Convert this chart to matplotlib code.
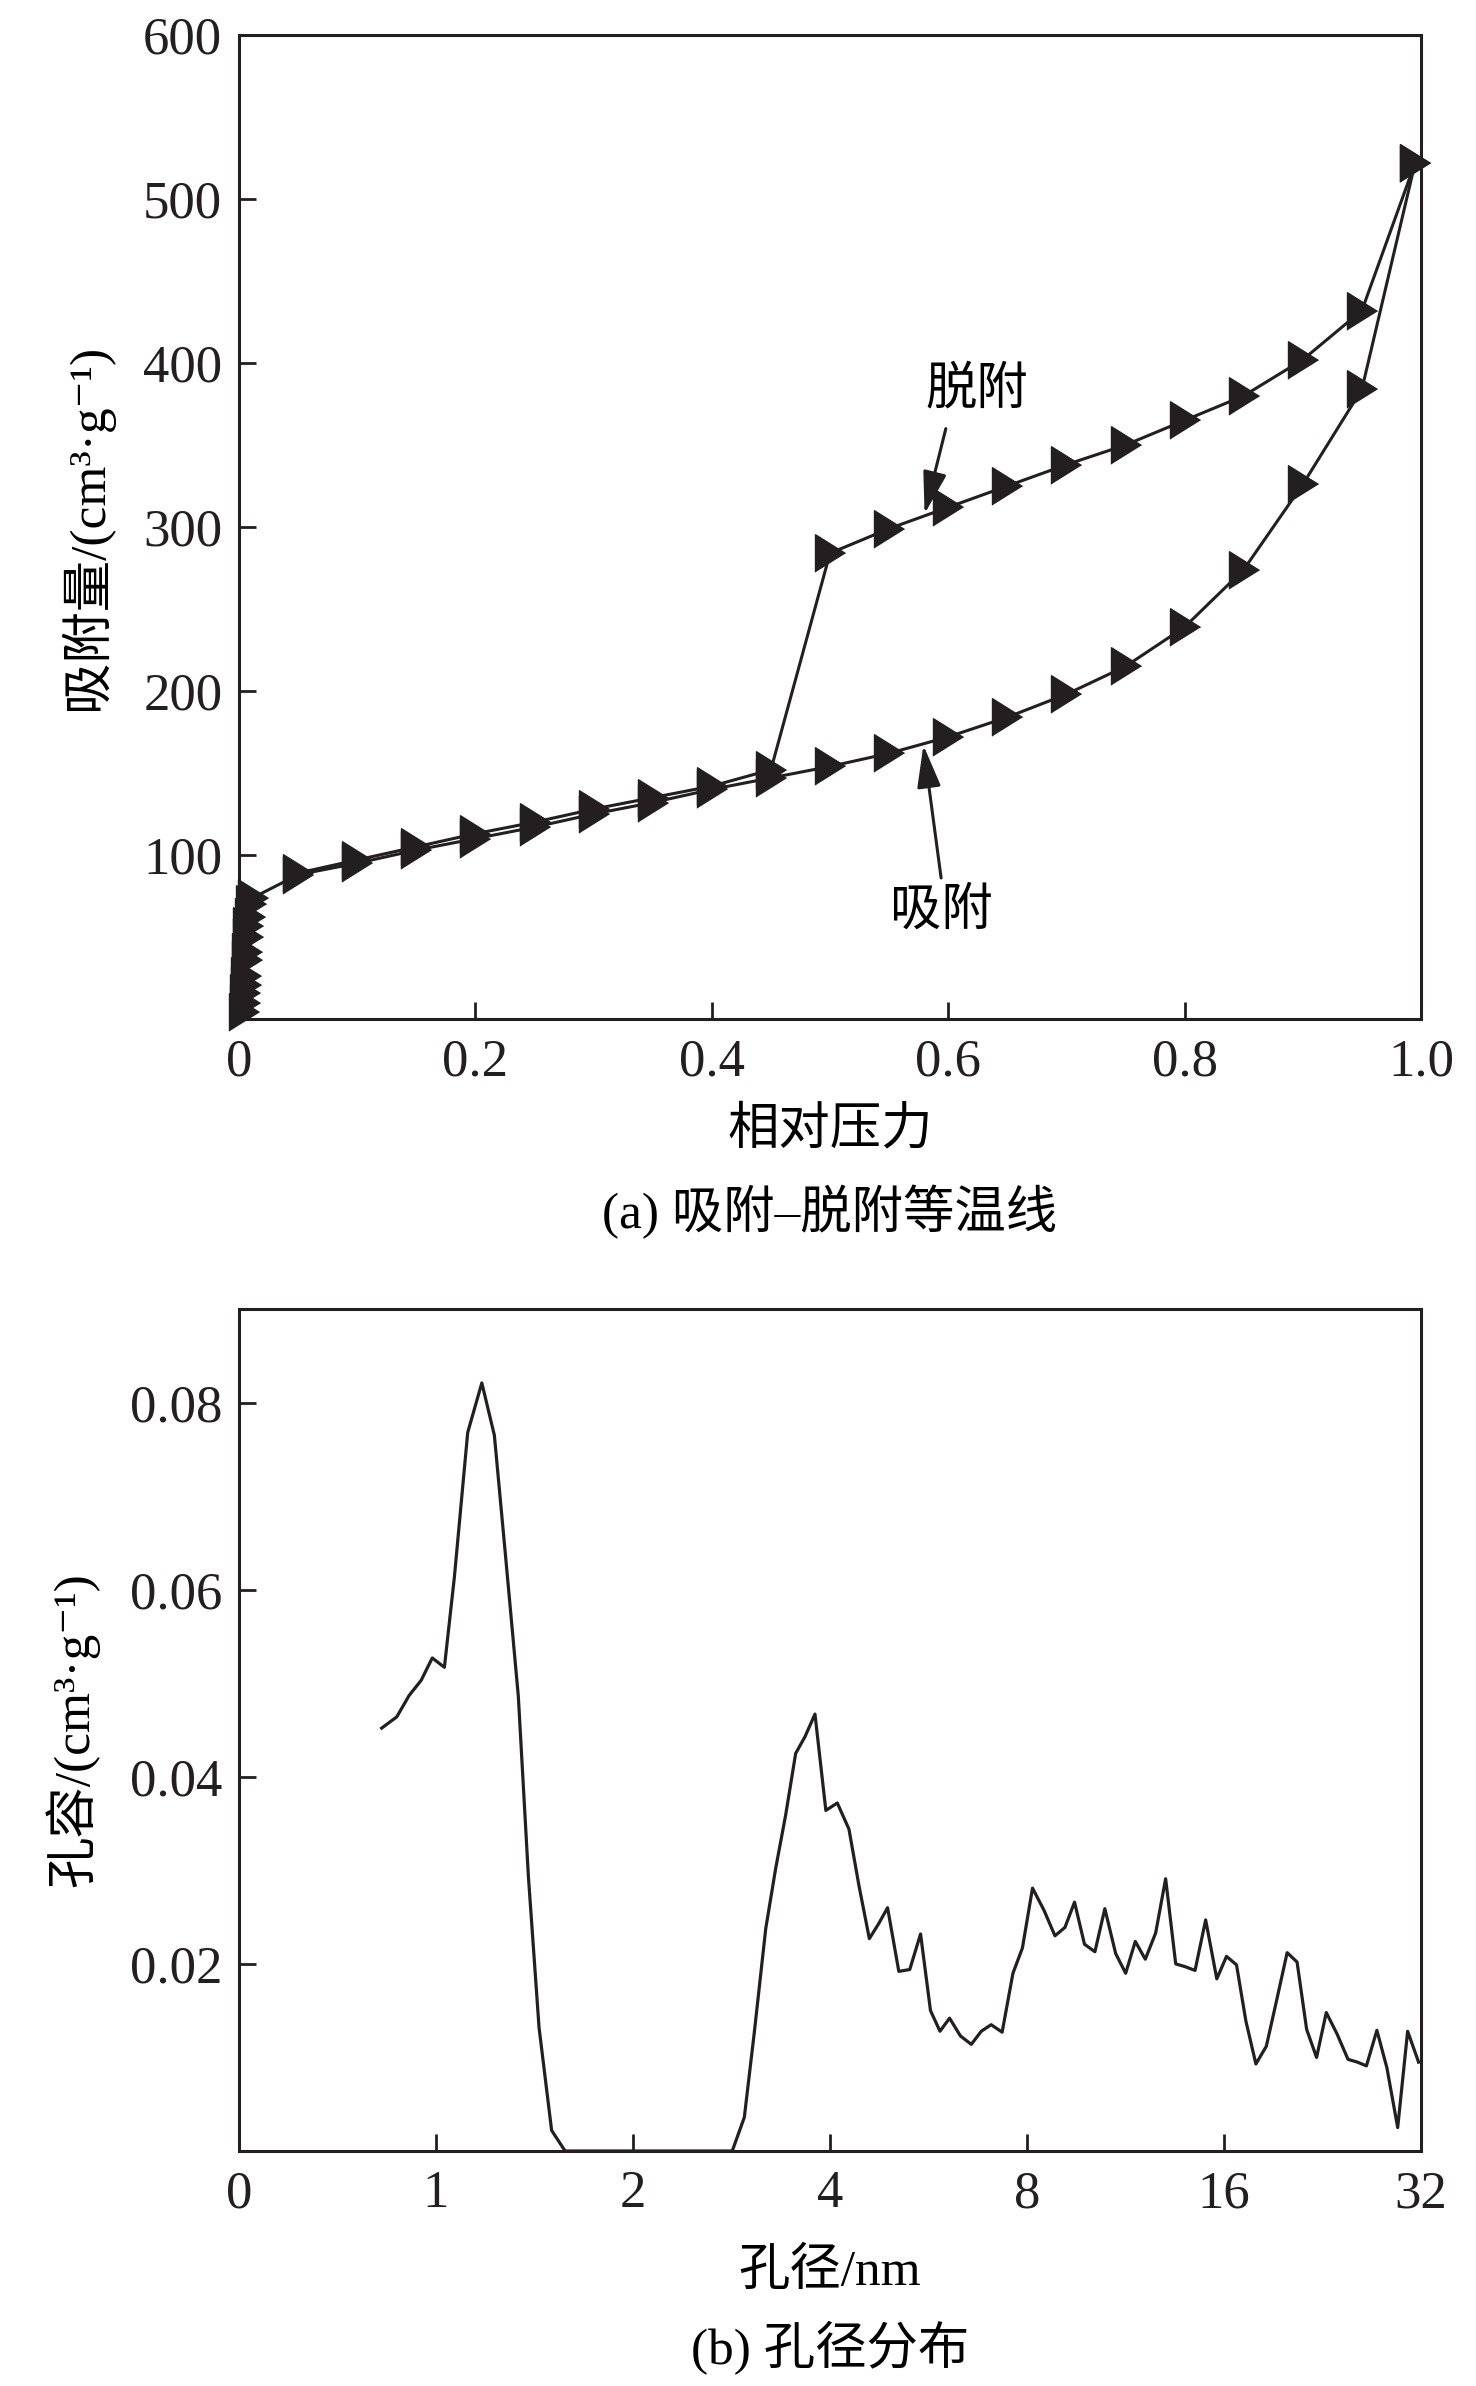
import matplotlib
matplotlib.use("Agg")
import matplotlib.pyplot as plt

plt.rcParams['font.family'] = ['Liberation Serif', 'Noto Sans CJK SC', 'DejaVu Sans']
plt.rcParams['font.size'] = 37

# (a) 吸附-脱附等温线
ads_p = [0.004, 0.005, 0.005, 0.006, 0.006, 0.007, 0.007, 0.008, 0.008, 0.009, 0.010, 0.012,
         0.05, 0.10, 0.15, 0.20, 0.25, 0.30, 0.35, 0.40, 0.45, 0.50, 0.55, 0.60, 0.65,
         0.70, 0.75, 0.80, 0.85, 0.90, 0.95, 0.995]
ads_v = [4, 10, 16, 21, 26, 36, 41, 50, 57, 62, 70, 74,
         88, 95, 103, 110, 117, 125, 132, 140, 147, 154, 162, 172, 184,
         198, 215, 239, 274, 326, 384, 522]
des_p = [0.995, 0.95, 0.90, 0.85, 0.80, 0.75, 0.70, 0.65, 0.60, 0.55, 0.50,
         0.45, 0.40, 0.35, 0.30, 0.25, 0.20, 0.15, 0.10, 0.05]
des_v = [522, 432, 402, 380, 365, 350, 338, 325, 312, 299, 284,
         152, 142, 135, 128, 120, 113, 105, 97, 89]

# (b) 孔径分布
pore_d = [0.826, 0.871, 0.910, 0.949, 0.987, 1.030, 1.067, 1.118, 1.175, 1.228, 1.278, 1.336,
          1.384, 1.437, 1.502, 1.575, 2.0, 2.5, 2.836, 2.959, 3.065, 3.191, 3.304, 3.422,
          3.545, 3.664, 3.794, 3.942, 4.104, 4.276, 4.428, 4.594, 4.738, 4.898, 5.096, 5.296,
          5.501, 5.697, 5.890, 6.092, 6.329, 6.576, 6.811, 7.052, 7.330, 7.614, 7.872, 8.157,
          8.497, 8.827, 9.143, 9.456, 9.793, 10.16, 10.52, 10.93, 11.32, 11.71, 12.13, 12.58,
          13.03, 13.50, 13.96, 14.45, 15.00, 15.60, 16.14, 16.72, 17.28, 17.90, 18.57, 19.24,
          19.98, 20.69, 21.40, 22.16, 22.93, 23.82, 24.75, 25.58, 26.41, 27.40, 28.38, 29.48,
          30.53, 31.73]
pore_v = [0.0452, 0.0464, 0.0487, 0.0503, 0.0527, 0.0517, 0.0614, 0.0768, 0.0821, 0.0765, 0.0634, 0.0486,
          0.0294, 0.0132, 0.0022, 0.0, 0.0, 0.0, 0.0, 0.0036, 0.0127, 0.0238, 0.0302, 0.0359,
          0.0425, 0.0443, 0.0467, 0.0364, 0.0372, 0.0344, 0.0284, 0.0227, 0.0242, 0.0260, 0.0192, 0.0194,
          0.0232, 0.0150, 0.0128, 0.0142, 0.0123, 0.0114, 0.0128, 0.0135, 0.0127, 0.0190, 0.0217, 0.0281,
          0.0257, 0.0230, 0.0239, 0.0266, 0.0221, 0.0213, 0.0259, 0.0211, 0.0190, 0.0224, 0.0205, 0.0233,
          0.0291, 0.0200, 0.0197, 0.0193, 0.0247, 0.0184, 0.0208, 0.0199, 0.0139, 0.0093, 0.0112, 0.0160,
          0.0212, 0.0202, 0.0130, 0.0100, 0.0148, 0.0125, 0.0098, 0.0095, 0.0091, 0.0129, 0.0089, 0.0025,
          0.0128, 0.0095]
pore_ticks = [0.5, 1, 2, 4, 8, 16, 32]
pore_ticklabels = ['0', '1', '2', '4', '8', '16', '32']

W, H = 1476, 2386
fig = plt.figure(figsize=(W / 100, H / 100), dpi=100)

def box(l, t, r, b):
    return [l / W, 1 - b / H, (r - l) / W, (b - t) / H]

def style(ax):
    for s in ax.spines.values():
        s.set_linewidth(2.2)
        s.set_color('#231f20')
    ax.tick_params(direction='in', length=12, width=2, colors='#231f20', pad=14, labelsize=38)
    ax.tick_params(axis='y', pad=12)

tri = [(-0.8, -1), (-0.8, 1), (0.8, 0)]
black = '#231f20'

ax1 = fig.add_axes(box(239, 35, 1421, 1019))
ax1.plot(ads_p, ads_v, color=black, lw=2.2, marker=tri, ms=27, clip_on=False)
ax1.plot(des_p, des_v, color=black, lw=2.2, marker=tri, ms=27, clip_on=False)
ax1.set_xlim(0, 1)
ax1.set_ylim(0, 600)
ax1.set_xticks([0, 0.2, 0.4, 0.6, 0.8, 1.0])
ax1.set_xticklabels(['0', '0.2', '0.4', '0.6', '0.8', '1.0'])
ax1.set_yticks([100, 200, 300, 400, 500, 600])
style(ax1)
ax1.set_ylabel('吸附量/(cm³·g⁻¹)', labelpad=22)
arrow = dict(arrowstyle='-|>,head_length=1.0,head_width=0.28', color=black, lw=2.2,
             mutation_scale=26, shrinkA=0, shrinkB=0)
ax1.annotate('', xy=(0.580, 308), xytext=(0.598, 360), arrowprops=arrow)
ax1.text(0.624, 383, '脱附', ha='center', va='center')
ax1.annotate('', xy=(0.579, 167), xytext=(0.594, 86), arrowprops=arrow)
ax1.text(0.594, 65, '吸附', ha='center', va='center')
fig.text(830 / W, 1 - 1131 / H, '相对压力', ha='center', va='center')
fig.text(830 / W, 1 - 1212 / H, '(a) 吸附–脱附等温线', ha='center', va='center')

ax2 = fig.add_axes(box(239, 1309, 1421, 2151))
ax2.plot(pore_d, pore_v, color=black, lw=2.3, clip_on=False)
ax2.set_xscale('log', base=2)
ax2.set_xlim(0.5, 32)
ax2.set_ylim(0, 0.09)
ax2.set_xticks(pore_ticks)
ax2.set_xticklabels(pore_ticklabels)
ax2.minorticks_off()
ax2.set_yticks([0.02, 0.04, 0.06, 0.08])
ax2.set_yticklabels(['0.02', '0.04', '0.06', '0.08'])
style(ax2)
ax2.set_ylabel('孔容/(cm³·g⁻¹)', labelpad=22)
fig.text(830 / W, 1 - 2272 / H, '孔径/nm', ha='center', va='center')
fig.text(830 / W, 1 - 2348 / H, '(b) 孔径分布', ha='center', va='center')

fig.savefig('out.png', dpi=100)
